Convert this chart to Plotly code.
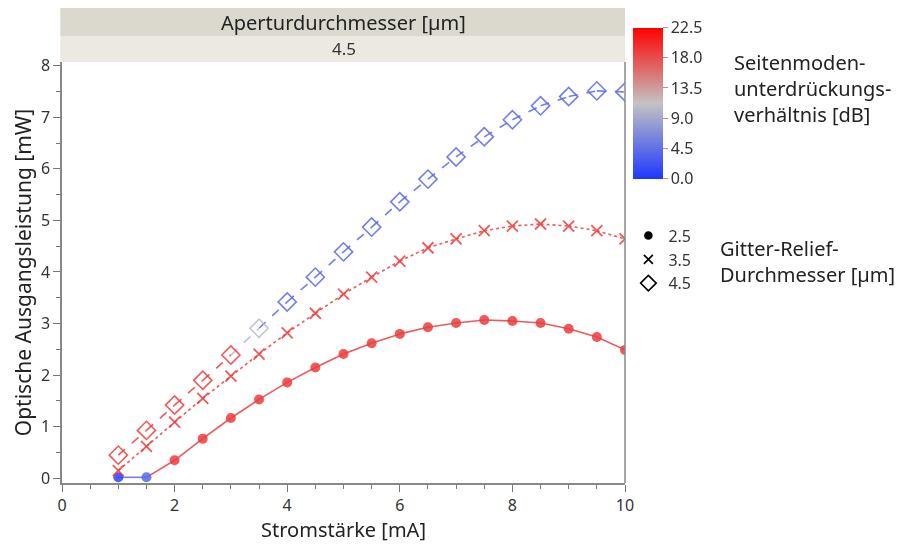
import plotly.graph_objects as go
from plotly.colors import sample_colorscale

# ---------------- data ----------------
current = [1, 1.5, 2, 2.5, 3, 3.5, 4, 4.5, 5, 5.5, 6, 6.5, 7, 7.5, 8, 8.5, 9, 9.5, 10]

power_25 = [0.02, 0.02, 0.35, 0.77, 1.17, 1.53, 1.86, 2.15, 2.41, 2.62, 2.80, 2.93, 3.01, 3.07, 3.05, 3.01, 2.90, 2.74, 2.49]
power_35 = [0.15, 0.62, 1.09, 1.55, 1.98, 2.41, 2.82, 3.20, 3.57, 3.90, 4.21, 4.47, 4.64, 4.80, 4.89, 4.93, 4.89, 4.80, 4.64]
power_45 = [0.45, 0.93, 1.42, 1.90, 2.39, 2.91, 3.42, 3.90, 4.39, 4.87, 5.36, 5.80, 6.23, 6.62, 6.95, 7.22, 7.40, 7.51, 7.49]

smsr_25 = [1.0, 4.0, 19, 19, 19, 19, 19, 19, 19, 19, 19, 19, 19, 19, 19, 19, 19, 19, 19]
smsr_35 = [19] * 19
smsr_45 = [19, 19, 19, 19, 19, 10.5, 4, 4, 4, 4, 4, 4, 4, 4, 4, 4, 4, 4, 4]

grating_labels = ["2.5", "3.5", "4.5"]
cbar_ticks = [0, 4.5, 9, 13.5, 18, 22.5]

CMIN, CMAX = 0, 22.5
cscale = [[0.0, "rgb(30,55,255)"], [0.5, "rgb(195,195,195)"], [1.0, "rgb(255,0,0)"]]
FONT = "Noto Sans"

fig = go.Figure()


def seg_color(v):
    return sample_colorscale(cscale, [(v - CMIN) / (CMAX - CMIN)])[0]


def add_lines(y, s, dash):
    for i in range(len(current) - 1):
        fig.add_trace(go.Scatter(
            x=[current[i], current[i + 1]], y=[y[i], y[i + 1]], mode="lines",
            line=dict(color=seg_color(s[i + 1]), width=1.6, dash=dash),
            opacity=0.85, showlegend=False, hoverinfo="skip"))


add_lines(power_25, smsr_25, "solid")
add_lines(power_35, smsr_35, "dot")
add_lines(power_45, smsr_45, "dash")

# markers
fig.add_trace(go.Scatter(
    x=current, y=power_25, mode="markers", showlegend=False, opacity=0.85,
    marker=dict(symbol="circle", size=10, color=smsr_25, colorscale=cscale, cmin=CMIN, cmax=CMAX,
                showscale=True,
                colorbar=dict(x=1.014, xanchor="left", xpad=0, ypad=0, y=0.9025, yanchor="middle",
                              len=151, lenmode="pixels", thickness=30, outlinewidth=0,
                              tickvals=cbar_ticks, tickformat=".1f", ticks="outside", ticklen=5,
                              tickcolor="rgb(215,130,140)",
                              tickfont=dict(family=FONT, size=16, color="#333")))))
fig.add_trace(go.Scatter(
    x=current, y=power_35, mode="markers", showlegend=False, opacity=0.85,
    marker=dict(symbol="x-thin", size=11,
                line=dict(width=1.8, color=smsr_35, colorscale=cscale, cmin=CMIN, cmax=CMAX))))
fig.add_trace(go.Scatter(
    x=current, y=power_45, mode="markers", showlegend=False, opacity=0.85,
    marker=dict(symbol="diamond-open", size=14, color=smsr_45, colorscale=cscale, cmin=CMIN, cmax=CMAX,
                line=dict(width=1.6))))

# legend entries (shape key)
for lbl, sym, sz in zip(grating_labels, ["circle", "x-thin", "diamond-open"], [7, 9, 12]):
    fig.add_trace(go.Scatter(
        x=[None], y=[None], mode="markers", name=lbl, legendgroup=lbl,
        marker=dict(symbol=sym, size=sz, color="black", line=dict(width=1.6, color="black"))))

fig.update_layout(
    width=898, height=544,
    margin=dict(l=62, r=273, t=62, b=61, autoexpand=False),
    plot_bgcolor="white", paper_bgcolor="white",
    font=dict(family=FONT, size=16, color="#222"),
    legend=dict(x=1.006, xanchor="left", y=0.628, yanchor="top", tracegroupgap=0,
                itemwidth=30, font=dict(family=FONT, size=16, color="#333"),
                bgcolor="rgba(0,0,0,0)"),
    xaxis=dict(range=[0, 10], tickvals=[0, 2, 4, 6, 8, 10], ticks="outside", ticklen=7,
               tickcolor="#777", showline=True, linecolor="#888", linewidth=1.5, mirror=False,
               showgrid=False, zeroline=False, automargin=True,
               minor=dict(dtick=0.5, ticks="outside", ticklen=4, tickcolor="#777"),
               tickfont=dict(size=16, color="#333"),
               title=dict(text="Stromstärke [mA]", font=dict(size=20, color="#222"), standoff=1)),
    yaxis=dict(range=[-0.09, 8.07], tickvals=list(range(0, 9)), ticks="outside", ticklen=7,
               tickcolor="#777", showline=True, linecolor="#888", linewidth=1.5,
               showgrid=False, zeroline=False, automargin=True,
               minor=dict(dtick=0.5, ticks="outside", ticklen=4, tickcolor="#777"),
               tickfont=dict(size=16, color="#333"),
               title=dict(text="Optische Ausgangsleistung [mW]", font=dict(size=21, color="#222"), standoff=4)),
)

# right border of plot
fig.add_shape(type="line", xref="paper", yref="paper", x0=1, x1=1, y0=0, y1=1,
              line=dict(color="#888", width=1.5))

# facet strips
fig.add_shape(type="rect", xref="paper", yref="paper", x0=-0.003, x1=1, y0=1.0618, y1=1.128,
              fillcolor="rgb(219,217,206)", line=dict(width=0), layer="below")
fig.add_shape(type="rect", xref="paper", yref="paper", x0=-0.003, x1=1, y0=1.0, y1=1.0618,
              fillcolor="rgb(236,234,224)", line=dict(width=0), layer="below")
fig.add_annotation(text="Aperturdurchmesser [µm]", xref="paper", yref="paper", x=0.5, y=1.095,
                   yanchor="middle", showarrow=False, font=dict(size=20, color="#222"))
fig.add_annotation(text="4.5", xref="paper", yref="paper", x=0.5, y=1.031,
                   yanchor="middle", showarrow=False, font=dict(size=17, color="#333"))

# colorbar title & legend title
fig.add_annotation(text="Seitenmoden-<br>unterdrückungs-<br>verhältnis [dB]", xref="paper", yref="paper",
                   x=1.19, xanchor="left", y=0.936, yanchor="middle", align="left", showarrow=False,
                   font=dict(size=20, color="#222"))
fig.add_annotation(text="Gitter-Relief-<br>Durchmesser [µm]", xref="paper", yref="paper",
                   x=1.165, xanchor="left", y=0.525, yanchor="middle", align="left", showarrow=False,
                   font=dict(size=20, color="#222"))

fig.write_html("out.html")
